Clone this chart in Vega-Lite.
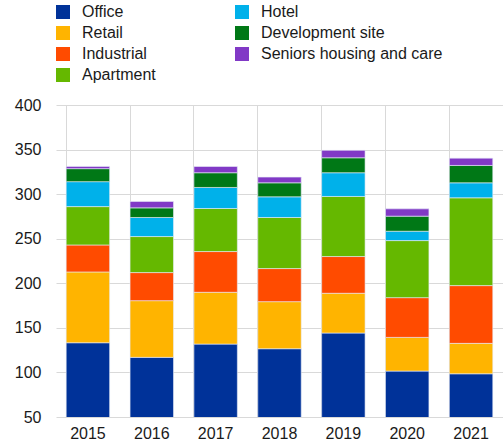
{
  "$schema": "https://vega.github.io/schema/vega-lite/v6.json",
  "autosize": {"type": "none"},
  "width": 447,
  "height": 312,
  "padding": {"left": 56, "top": 105, "right": 0, "bottom": 30},
  "background": "white",
  "config": {
    "view": {"stroke": null},
    "font": "Liberation Sans",
    "axis": {"labelFont": "Liberation Sans", "labelColor": "#1a1a1a", "gridColor": "#d9d9d9", "gridWidth": 1, "domain": false, "ticks": false, "title": null}
  },
  "data": {
    "values": [
      {"year": "2015", "type": "Office", "rank": 1, "value": 133.3},
      {"year": "2015", "type": "Retail", "rank": 2, "value": 79.4},
      {"year": "2015", "type": "Industrial", "rank": 3, "value": 30.3},
      {"year": "2015", "type": "Apartment", "rank": 4, "value": 43},
      {"year": "2015", "type": "Hotel", "rank": 5, "value": 28},
      {"year": "2015", "type": "Development site", "rank": 6, "value": 14.6},
      {"year": "2015", "type": "Seniors housing and care", "rank": 7, "value": 2.5},
      {"year": "2016", "type": "Office", "rank": 1, "value": 116.9},
      {"year": "2016", "type": "Retail", "rank": 2, "value": 63.6},
      {"year": "2016", "type": "Industrial", "rank": 3, "value": 31.5},
      {"year": "2016", "type": "Apartment", "rank": 4, "value": 40.4},
      {"year": "2016", "type": "Hotel", "rank": 5, "value": 21.4},
      {"year": "2016", "type": "Development site", "rank": 6, "value": 10.8},
      {"year": "2016", "type": "Seniors housing and care", "rank": 7, "value": 7.2},
      {"year": "2017", "type": "Office", "rank": 1, "value": 131.8},
      {"year": "2017", "type": "Retail", "rank": 2, "value": 58.1},
      {"year": "2017", "type": "Industrial", "rank": 3, "value": 45.7},
      {"year": "2017", "type": "Apartment", "rank": 4, "value": 48.3},
      {"year": "2017", "type": "Hotel", "rank": 5, "value": 23.6},
      {"year": "2017", "type": "Development site", "rank": 6, "value": 16.5},
      {"year": "2017", "type": "Seniors housing and care", "rank": 7, "value": 7},
      {"year": "2018", "type": "Office", "rank": 1, "value": 126.6},
      {"year": "2018", "type": "Retail", "rank": 2, "value": 52.8},
      {"year": "2018", "type": "Industrial", "rank": 3, "value": 37.1},
      {"year": "2018", "type": "Apartment", "rank": 4, "value": 57.3},
      {"year": "2018", "type": "Hotel", "rank": 5, "value": 23.2},
      {"year": "2018", "type": "Development site", "rank": 6, "value": 15.7},
      {"year": "2018", "type": "Seniors housing and care", "rank": 7, "value": 6.4},
      {"year": "2019", "type": "Office", "rank": 1, "value": 144.2},
      {"year": "2019", "type": "Retail", "rank": 2, "value": 44.6},
      {"year": "2019", "type": "Industrial", "rank": 3, "value": 41.2},
      {"year": "2019", "type": "Apartment", "rank": 4, "value": 67.4},
      {"year": "2019", "type": "Hotel", "rank": 5, "value": 26.6},
      {"year": "2019", "type": "Development site", "rank": 6, "value": 16.8},
      {"year": "2019", "type": "Seniors housing and care", "rank": 7, "value": 8.3},
      {"year": "2020", "type": "Office", "rank": 1, "value": 101.5},
      {"year": "2020", "type": "Retail", "rank": 2, "value": 37.8},
      {"year": "2020", "type": "Industrial", "rank": 3, "value": 44.6},
      {"year": "2020", "type": "Apartment", "rank": 4, "value": 64},
      {"year": "2020", "type": "Hotel", "rank": 5, "value": 10.5},
      {"year": "2020", "type": "Development site", "rank": 6, "value": 16.9},
      {"year": "2020", "type": "Seniors housing and care", "rank": 7, "value": 8.2},
      {"year": "2021", "type": "Office", "rank": 1, "value": 98.5},
      {"year": "2021", "type": "Retail", "rank": 2, "value": 34.1},
      {"year": "2021", "type": "Industrial", "rank": 3, "value": 64.8},
      {"year": "2021", "type": "Apartment", "rank": 4, "value": 98.5},
      {"year": "2021", "type": "Hotel", "rank": 5, "value": 16.8},
      {"year": "2021", "type": "Development site", "rank": 6, "value": 19.5},
      {"year": "2021", "type": "Seniors housing and care", "rank": 7, "value": 8.2}
    ]
  },
  "mark": {"type": "bar", "clip": true, "stroke": "#e8ecf8", "strokeWidth": 0.6},
  "encoding": {
    "x": {
      "field": "year", "type": "nominal",
      "scale": {"paddingInner": 0.32, "paddingOuter": 0.16},
      "axis": {"labelAngle": 0, "labelFontSize": 16, "labelPadding": 8, "grid": true, "bandPosition": 0}
    },
    "y": {
      "field": "value", "type": "quantitative", "aggregate": "sum", "stack": "zero",
      "scale": {"domain": [50, 400], "nice": false, "zero": false},
      "axis": {"values": [50, 100, 150, 200, 250, 300, 350, 400], "labelFontSize": 16, "labelPadding": 15}
    },
    "order": {"field": "rank", "type": "quantitative"},
    "color": {
      "field": "type", "type": "nominal",
      "scale": {
        "domain": ["Office", "Retail", "Industrial", "Apartment", "Hotel", "Development site", "Seniors housing and care"],
        "range": ["#003299", "#ffb400", "#ff4b00", "#65b800", "#00b1ea", "#007816", "#8139c6"]
      },
      "legend": {
        "title": null, "orient": "none", "legendX": -1, "legendY": -101,
        "columns": 2, "columnPadding": 78, "rowPadding": 5,
        "symbolType": "square", "symbolSize": 196, "symbolStrokeWidth": 0,
        "labelFontSize": 16, "labelOffset": 11, "labelColor": "#1a1a1a", "labelLimit": 300
      }
    }
  }
}
